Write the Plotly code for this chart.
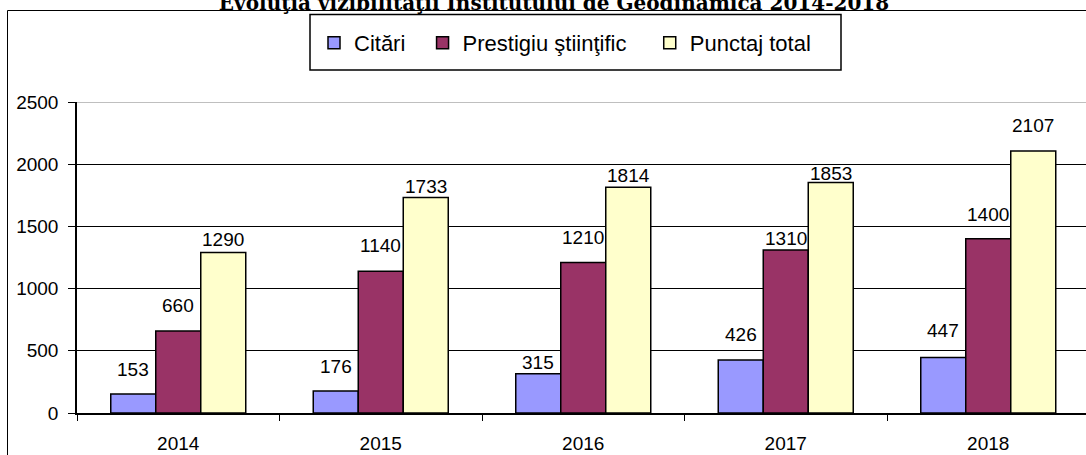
import plotly.graph_objects as go

# ---- data ----
years = ["2014", "2015", "2016", "2017", "2018"]
series_names = ["Citări", "Prestigiu ştiinţific", "Punctaj total"]
citari = [153, 176, 315, 426, 447]
prestigiu = [660, 1140, 1210, 1310, 1400]
punctaj = [1290, 1733, 1814, 1853, 2107]
y_ticks = [0, 500, 1000, 1500, 2000, 2500]
title_text = "Evoluţia vizibilităţii Institutului de Geodinamică 2014-2018"

# ---- style ----
colors = ["#9999FF", "#993366", "#FFFFCC"]
# vertical gap (px) between bar top and label baseline, as placed in the original
label_gaps = [
    [17, 17, 4, 18, 19],
    [18, 18, 17, 4, 17],
    [6, 3, 4, 1, 18],
]
legend_pad = [2, 3, 0]  # extra non-breaking spaces after legend names (spacing)
FONT = "Liberation Sans, Arial, sans-serif"
W, H = 1086, 455
L, T, B = 77, 102, 42
BARGAP = 1 / 3
plot_w = W - L
cat_px = 202.5
x_max = -0.5 + plot_w / cat_px

fig = go.Figure()
all_series = [citari, prestigiu, punctaj]
for name, vals, col, pad in zip(series_names, all_series, colors, legend_pad):
    fig.add_trace(go.Bar(
        x=years, y=vals, name=name + "\u00a0" * pad,
        marker=dict(color=col, line=dict(color="black", width=1.5)),
    ))

# data labels
n = len(all_series)
bw = (1 - BARGAP) / n
annotations = []
for k, vals in enumerate(all_series):
    for i, v in enumerate(vals):
        annotations.append(dict(
            x=i + (k - (n - 1) / 2) * bw, y=v, xref="x", yref="y",
            text=str(v), showarrow=False, yanchor="bottom",
            yshift=label_gaps[k][i] - 5,
            font=dict(family=FONT, size=19, color="black"),
        ))

py = lambda px: (H - B - px) / (H - T - B)
pxx = lambda px: (px - L) / plot_w

shapes = [
    # outer frame (left & top visible)
    dict(type="line", xref="paper", yref="paper", x0=pxx(7.5), x1=pxx(7.5), y0=py(10.5), y1=py(470),
         line=dict(color="black", width=1)),
    dict(type="line", xref="paper", yref="paper", x0=pxx(7.5), x1=pxx(1100), y0=py(10.5), y1=py(10.5),
         line=dict(color="black", width=1)),
    # legend box
    dict(type="rect", xref="paper", yref="paper", x0=pxx(310), x1=pxx(841), y0=py(14.5), y1=py(70),
         line=dict(color="black", width=1.5)),
    # plot area top border (grey)
    dict(type="line", xref="paper", yref="y", x0=0, x1=1, y0=2500, y1=2500,
         line=dict(color="#808080", width=1)),
]

fig.update_layout(
    width=W, height=H, autosize=False,
    margin=dict(l=L, r=0, t=T, b=B, pad=0),
    paper_bgcolor="white", plot_bgcolor="white",
    barmode="group", bargap=BARGAP, bargroupgap=0,
    title=dict(text="<b>" + title_text + "</b>", x=554 / W, xanchor="center",
               y=1 - 10 / H, yanchor="bottom", yref="container",
               font=dict(family="DejaVu Serif, serif", size=20, color="black")),
    legend=dict(orientation="h", x=pxx(314), xanchor="left", y=py(43), yanchor="middle",
                font=dict(family=FONT, size=22, color="black"),
                bgcolor="rgba(0,0,0,0)", borderwidth=0, traceorder="normal"),
    xaxis=dict(range=[-0.5, x_max], showline=True, linecolor="black", linewidth=1.5,
               ticks="outside", tickson="boundaries", ticklen=6, tickcolor="black",
               showgrid=False, tickfont=dict(family=FONT, size=19, color="black"),
               ticklabelstandoff=12, fixedrange=True),
    yaxis=dict(range=[0, 2500], tickvals=y_ticks, showline=True, linecolor="black", linewidth=1.5,
               ticks="outside", ticklen=7, tickcolor="black", showgrid=True, gridcolor="black",
               gridwidth=1, zeroline=False, tickfont=dict(family=FONT, size=19, color="black"),
               ticklabelstandoff=6, fixedrange=True),
    annotations=annotations,
    shapes=shapes,
)

fig.write_html("out.html", config={"displayModeBar": False},
               post_script="document.body.style.margin='0';document.body.style.overflow='hidden';")
